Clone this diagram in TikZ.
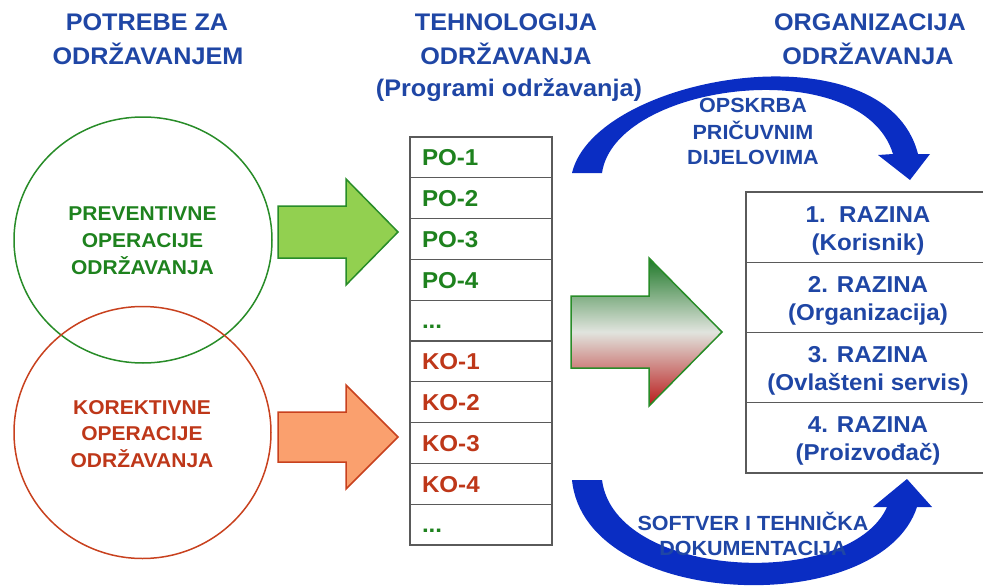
\documentclass[tikz,border=0pt]{standalone}
\usepackage{fontspec}
\setmainfont{Liberation Sans}[FakeStretch=1.05]
\usetikzlibrary{shapes.geometric}
\definecolor{hblue}{RGB}{31,70,165}
\definecolor{arcblue}{RGB}{10,45,195}
\definecolor{tgreen}{RGB}{30,130,30}
\definecolor{tred}{RGB}{190,55,25}
\definecolor{cgreen}{RGB}{40,140,40}
\definecolor{cred}{RGB}{200,65,30}
\definecolor{lgreen}{RGB}{146,208,80}
\definecolor{salmon}{RGB}{250,160,110}
\definecolor{gtop}{RGB}{30,120,40}
\definecolor{gmid}{RGB}{225,228,222}
\definecolor{gbot}{RGB}{185,25,25}
\definecolor{tline}{RGB}{90,90,90}
\newcommand{\tdots}{...}
\tikzset{
  ttl/.style={font=\fontsize{24}{28}\selectfont\bfseries, text=hblue, inner sep=0pt, text height=17pt, text depth=0pt},
  ctxt/.style={font=\fontsize{20}{24}\selectfont\bfseries, inner sep=0pt, text height=14.3pt, text depth=0pt},
  atxt/.style={font=\fontsize{20.5}{24}\selectfont\bfseries, text=hblue, inner sep=0pt, text height=14.7pt, text depth=0pt},
  rtxt/.style={font=\fontsize{23}{27}\selectfont\bfseries, text=hblue, inner sep=0pt, text height=16.5pt, text depth=0pt},
  cell/.style={draw=tline, line width=1.2pt, minimum width=142pt, minimum height=40.8pt, inner xsep=12pt, inner ysep=0pt, text width=118pt, align=left, font=\fontsize{23}{27}\selectfont\bfseries, text height=16.5pt, text depth=0pt},
  rcell/.style={draw=tline, line width=1.2pt, minimum width=246pt, minimum height=70.25pt, inner sep=0pt},
  circ/.style={ellipse, line width=1.5pt, inner sep=0pt},
}
\begin{document}
\begin{tikzpicture}[x=1pt,y=-1pt]
\useasboundingbox (0,0) rectangle (983,586);
% headings
\node[ttl] (h1a) at (147,22) {POTREBE ZA};
\node[ttl] (h1b) at (148,56) {ODRŽAVANJEM};
\node[ttl] (h2a) at (506,22) {TEHNOLOGIJA};
\node[ttl] (h2b) at (506,56) {ODRŽAVANJA};
\node[ttl] (h2c) at (509,88) {(Programi održavanja)};
\node[ttl] (h3a) at (870,22) {ORGANIZACIJA};
\node[ttl] (h3b) at (868,56) {ODRŽAVANJA};
% circles
\node[circ, draw=cgreen, minimum width=258pt, minimum height=246pt] (prev) at (143,240) {};
\node[circ, draw=cred, minimum width=257pt, minimum height=252pt] (kor) at (142.5,432.5) {};
\node[ctxt, text=tgreen] (p1) at (142.5,213) {PREVENTIVNE};
\node[ctxt, text=tgreen] (p2) at (142.5,240) {OPERACIJE};
\node[ctxt, text=tgreen] (p3) at (142.5,267) {ODRŽAVANJA};
\node[ctxt, text=tred] (k1) at (142,407) {KOREKTIVNE};
\node[ctxt, text=tred] (k2) at (142,433) {OPERACIJE};
\node[ctxt, text=tred] (k3) at (142,460) {ODRŽAVANJA};
% block arrows
\draw[draw=cgreen, fill=lgreen, line width=1.5pt, line join=miter]
  (278,206) -- (346,206) -- (346,179) -- (398,232) -- (346,285) -- (346,258) -- (278,258) -- cycle;
\draw[draw=cred, fill=salmon, line width=1.5pt, line join=miter]
  (278,412) -- (346,412) -- (346,385) -- (398,437) -- (346,489) -- (346,462) -- (278,462) -- cycle;
\shade[top color=gtop, bottom color=gbot, middle color=gmid]
  (571,296) -- (649,296) -- (649,258) -- (722,332) -- (649,406) -- (649,368) -- (571,368) -- cycle;
\draw[draw=cgreen, line width=1.5pt, line join=miter]
  (571,296) -- (649,296) -- (649,258) -- (722,332) -- (649,406) -- (649,368) -- (571,368) -- cycle;
% middle table
\foreach \t/\c [count=\i from 0] in {PO-1/tgreen,PO-2/tgreen,PO-3/tgreen,PO-4/tgreen,\tdots/tgreen,KO-1/tred,KO-2/tred,KO-3/tred,KO-4/tred,\tdots/tgreen}{
  \node[cell, text=\c] (m\i) at (481,{137+40.8*(\i+0.5)}) {\t};
}
% right table
\node[rcell] (r1) at (869,227.1) {};
\node[rcell] (r2) at (869,297.4) {};
\node[rcell] (r3) at (869,367.6) {};
\node[rcell] (r4) at (869,437.9) {};
\node[rtxt] (r1a) at (868,214.5) {1.~~RAZINA};
\node[rtxt] (r1b) at (868,242.5) {(Korisnik)};
\node[rtxt] (r2a) at (868,284) {2. RAZINA};
\node[rtxt] (r2b) at (868,312) {(Organizacija)};
\node[rtxt] (r3a) at (868,354.5) {3. RAZINA};
\node[rtxt] (r3b) at (868,382.5) {(Ovlašteni servis)};
\node[rtxt] (r4a) at (868,424.5) {4. RAZINA};
\node[rtxt] (r4b) at (868,452.5) {(Proizvođač)};
% curved blue arrows
\fill[arcblue]
  (572,173) .. controls (595,75) and (885,25) .. (918,154)
  -- (930,154) -- (910,180) -- (878,155) -- (893,154)
  .. controls (862,52) and (615,82) .. (602,173) -- cycle;
\fill[arcblue]
  (572,480) .. controls (585,610) and (880,620) .. (917,507)
  -- (932,507) -- (907,479) -- (873,507) -- (887,507)
  .. controls (850,590) and (615,580) .. (602,480) -- cycle;
% arrow texts
\node[atxt] (o1) at (753,105) {OPSKRBA};
\node[atxt] (o2) at (753,132) {PRIČUVNIM};
\node[atxt] (o3) at (753,157) {DIJELOVIMA};
\node[atxt] (s1) at (753,523) {SOFTVER I TEHNIČKA};
\node[atxt] (s2) at (753,548) {DOKUMENTACIJA};
\end{tikzpicture}
\end{document}
